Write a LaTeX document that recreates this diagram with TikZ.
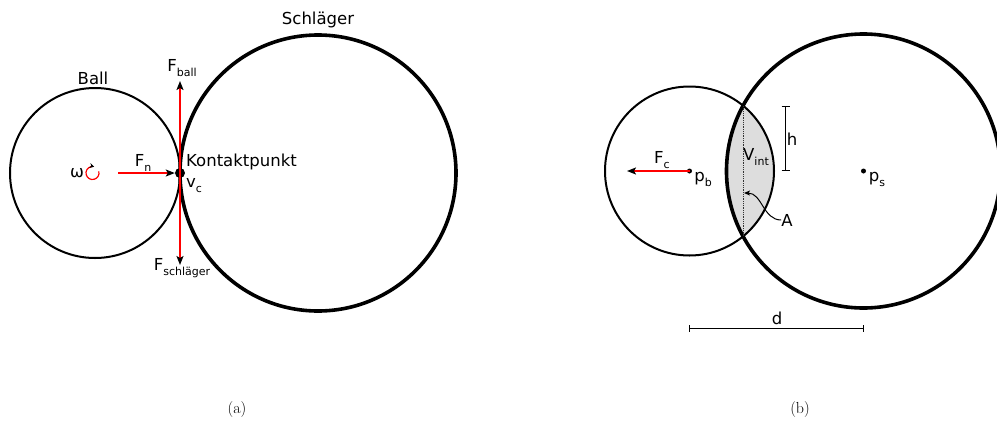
\documentclass[tikz,border=0pt]{standalone}
\usepackage{fontspec}
\usetikzlibrary{arrows.meta}
\newfontfamily\dvs{DejaVu Sans}
\newcommand\mysub[1]{\raisebox{-0.3em}{\fontsize{11}{13}\selectfont #1}}
\definecolor{lensgray}{RGB}{221,221,221}
\tikzset{
  lbl/.style={font=\dvs\fontsize{16.5}{19}\selectfont, inner sep=0pt},
  captext/.style={font=\fontsize{16}{19}\selectfont, inner sep=0pt},
  thinc/.style={circle, draw, line width=2pt, inner sep=0pt},
  thickc/.style={circle, draw, line width=3.6pt, inner sep=0pt},
  force/.style={draw=red, line width=1.6pt, -{Stealth[length=9pt,width=7pt,inset=2pt,color=black]}},
  dot/.style={circle, fill=black, inner sep=0pt},
  dimline/.style={line width=1pt},
}
\begin{document}
\begin{tikzpicture}[x=1pt,y=-1pt]
\useasboundingbox (0,0) rectangle (997,424);
% ---------- (a) ----------
\node[thinc, minimum size=170pt] (ballA) at (95,173) {};
\node[thickc, minimum size=276pt] (batA) at (318,173) {};
\coordinate (Fbtip) at (180,81);
\coordinate (Fstip) at (180,265);
\coordinate (Fnstart) at (118,173);
\node[dot, minimum size=10pt] (K) at (180,173) {};
\draw[force] (K.center) -- (Fbtip);
\draw[force] (K.center) -- (Fstip);
\draw[force] (Fnstart) -- (K.west);
\node[lbl] (ballLbl) at (93,78) {Ball};
\node[lbl] (batLbl) at (318,20) {Schläger};
\node[lbl] (Fball) at (182,68) {F\mysub{ball}};
\node[lbl] (Fschl) at (182,268) {F\mysub{schläger}};
\node[lbl] (Fn) at (143,163) {F\mysub{n}};
\node[lbl] (omega) at (77,173) {ω};
\coordinate (rotc) at (92.5,173);
\draw[red, line width=1.2pt, -{Stealth[length=4.5pt,width=5pt,color=black]}] ([shift={(-15:6.5)}]rotc) arc[start angle=-15, end angle=285, radius=6.5];
\node[lbl, anchor=west] (kp) at (186,162) {Kontaktpunkt};
\node[lbl, anchor=west] (vc) at (186,186) {v\mysub{c}};
\node[captext] (capa) at (237,410) {(a)};
% ---------- (b) ----------
\coordinate (pb) at (689.5,171);
\coordinate (ps) at (863.5,171);
\begin{scope}
  \clip (pb) circle (84.5);
  \fill[lensgray] (ps) circle (137);
\end{scope}
\node[thinc, minimum size=169pt] (ballB) at (pb) {};
\node[thickc, minimum size=274pt] (batB) at (ps) {};
\coordinate (ctop) at (743.1,105.7);
\coordinate (cbot) at (743.1,236.3);
\draw[densely dotted, line width=0.8pt, black!80] (ctop) -- (cbot);
\node[dot, minimum size=5pt] (pbdot) at (pb) {};
\node[dot, minimum size=5pt] (psdot) at (ps) {};
\coordinate (Fctip) at (627,171);
\draw[force] (pbdot.center) -- (Fctip);
\node[lbl] (Fc) at (662,160) {F\mysub{c}};
\node[lbl] (pblbl) at (703,179) {p\mysub{b}};
\node[lbl] (pslbl) at (877,179) {p\mysub{s}};
\node[lbl] (Vint) at (756,157) {V\mysub{int}};
% h dimension
\coordinate (ht) at (785.5,106);
\coordinate (hb) at (785.5,170);
\draw[dimline] (ht) -- (hb);
\draw[dimline] ([xshift=-4pt]ht) -- ([xshift=4pt]ht);
\draw[dimline] ([xshift=-4pt]hb) -- ([xshift=4pt]hb);
\node[lbl] (h) at (792,139) {h};
% A label
\node[lbl] (A) at (787,220) {A};
\coordinate (Atip) at (744,193);
\draw[line width=1pt, -{Stealth[length=6pt,width=5pt,inset=1.5pt]}] (A.west) to[out=180,in=0] (Atip);
% d dimension
\coordinate (dl) at (689.5,328);
\coordinate (dr) at (863.5,328);
\draw[dimline] (dl) -- (dr);
\draw[dimline] ([yshift=-3.5pt]dl) -- ([yshift=3.5pt]dl);
\draw[dimline] ([yshift=-3.5pt]dr) -- ([yshift=3.5pt]dr);
\node[lbl] (d) at (777,318) {d};
\node[captext] (capb) at (800,410) {(b)};
\end{tikzpicture}
\end{document}
